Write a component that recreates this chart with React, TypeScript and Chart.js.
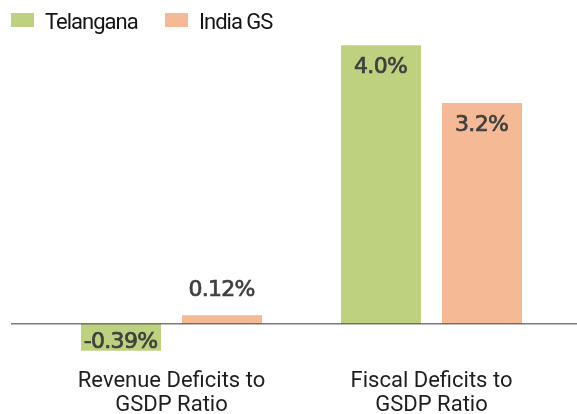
import React, { useEffect, useRef } from "react";
import { Chart, registerables } from "chart.js";

Chart.register(...registerables);

const categories: string[][] = [
  ["Revenue Deficits to", "GSDP Ratio"],
  ["Fiscal Deficits to", "GSDP Ratio"],
];
const seriesNames = ["Telangana", "India GS"];
const telangana = [-0.39, 4.0];
const indiaGS = [0.12, 3.17];
const valueLabels = [
  ["-0.39%", "4.0%"],
  ["0.12%", "3.2%"],
];
const colors = ["#bdd17f", "#f6b995"];

const FONT = "Roboto, sans-serif";
const VALUE_FONT = "'DejaVu Sans', sans-serif";

const zeroLinePlugin = {
  id: "zeroLine",
  afterDatasetsDraw(chart: any) {
    const { ctx } = chart;
    const y = chart.scales.y.getPixelForValue(0);
    ctx.save();
    ctx.strokeStyle = "rgba(70,70,70,0.72)";
    ctx.lineWidth = 1.5;
    ctx.beginPath();
    ctx.moveTo(11, y);
    ctx.lineTo(chart.width, y);
    ctx.stroke();
    ctx.restore();
  },
};

const labelPlugin = {
  id: "valueLabels",
  afterDatasetsDraw(chart: any) {
    const { ctx } = chart;
    const zero = chart.scales.y.getPixelForValue(0);
    ctx.save();
    ctx.font = `400 22px ${VALUE_FONT}`;
    try {
      (ctx as any).letterSpacing = "-0.7px";
    } catch (e) {}
    ctx.fillStyle = "#3f3f3f";
    ctx.strokeStyle = "#3f3f3f";
    ctx.lineWidth = 0.7;
    ctx.textAlign = "center";
    ctx.textBaseline = "alphabetic";
    chart.data.datasets.forEach((ds: any, di: number) => {
      const meta = chart.getDatasetMeta(di);
      meta.data.forEach((bar: any, i: number) => {
        const v = ds.data[i];
        const top = bar.y;
        let y: number;
        if (v < 0) {
          y = zero + 24;
        } else if (zero - top > 50) {
          y = top + 28;
        } else {
          y = top - 19;
        }
        ctx.fillText(valueLabels[di][i], bar.x - 0.4, y);
        ctx.strokeText(valueLabels[di][i], bar.x - 0.4, y);
      });
    });
    ctx.restore();
  },
};

const legendPlugin = {
  id: "customLegend",
  afterDraw(chart: any) {
    const { ctx } = chart;
    ctx.save();
    ctx.font = `400 22px ${FONT}`;
    try {
      (ctx as any).letterSpacing = "-1px";
    } catch (e) {}
    ctx.textBaseline = "alphabetic";
    ctx.textAlign = "left";
    const starts = [11, 165];
    chart.data.datasets.forEach((ds: any, i: number) => {
      const x = starts[i];
      ctx.fillStyle = ds.backgroundColor;
      ctx.fillRect(x, 13, 23, 14);
      ctx.fillStyle = "#141414";
      ctx.fillText(ds.label, x + 34, 29);
    });
    ctx.restore();
  },
};

export default function App() {
  const ref = useRef<HTMLCanvasElement>(null);
  useEffect(() => {
    if (!ref.current) return;
    const chart = new Chart(ref.current, {
      type: "bar",
      data: {
        labels: categories as any,
        datasets: [
          { label: seriesNames[0], data: telangana, backgroundColor: colors[0] },
          { label: seriesNames[1], data: indiaGS, backgroundColor: colors[1] },
        ],
      },
      options: {
        animation: false,
        responsive: true,
        maintainAspectRatio: false,
        layout: { padding: { left: 41.5, right: 15.5, top: 31.2, bottom: -10 } },
        datasets: {
          bar: { categoryPercentage: 0.777, barPercentage: 0.792 },
        } as any,
        plugins: {
          legend: { display: false },
          tooltip: { enabled: false },
        },
        scales: {
          x: {
            grid: { display: false, drawTicks: false },
            border: { display: false },
            ticks: {
              padding: 7,
              color: "#1e1e1e",
              font: { family: FONT, size: 22, lineHeight: 24 / 22 },
              maxRotation: 0,
              autoSkip: false,
            },
          },
          y: {
            display: false,
            min: -0.55,
            max: 4.2,
          },
        },
      },
      plugins: [zeroLinePlugin, labelPlugin, legendPlugin],
    });
    return () => chart.destroy();
  }, []);
  return (
    <div style={{ position: "absolute", left: 0, top: 0, width: 577, height: 414 }}>
      <canvas ref={ref} />
    </div>
  );
}
